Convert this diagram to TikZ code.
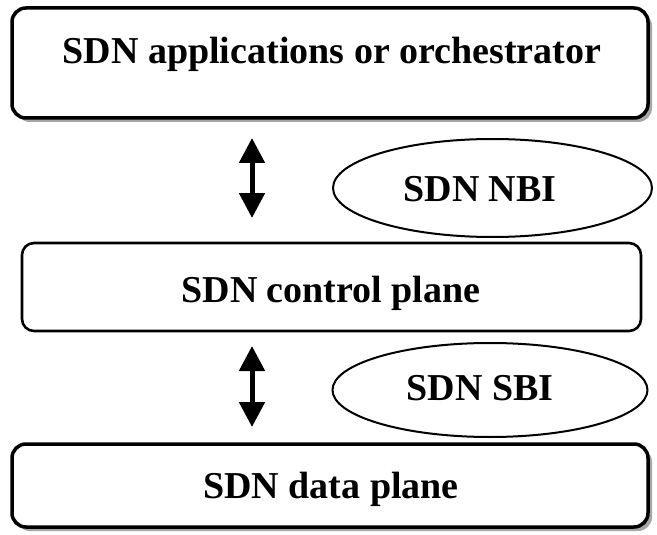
\documentclass[tikz,border=0pt]{standalone}
\usepackage{fontspec}
\setmainfont{Liberation Serif}
\usetikzlibrary{shapes.geometric,arrows.meta,shadows}
\begin{document}
\begin{tikzpicture}[x=1pt,y=-1pt,
  shadowbox/.style={draw, rounded corners=14pt, line width=3.5pt, fill=white,
    inner sep=0pt,
    drop shadow={shadow xshift=4pt, shadow yshift=-4pt, fill=gray!70, opacity=1}},
  plainbox/.style={draw, rounded corners=12pt, line width=2.6pt, fill=white, inner sep=0pt},
  oval/.style={draw, ellipse, line width=2pt, inner sep=0pt},
  lbl/.style={font=\fontsize{38}{40}\selectfont\bfseries, anchor=base, inner sep=0pt},
  dblarrow/.style={line width=5pt, {Triangle[width=25pt,length=25pt]}-{Triangle[width=25pt,length=25pt]}}
]
\useasboundingbox[fill=white] (0,0) rectangle (657,535);

\node[shadowbox, minimum width=636pt, minimum height=110pt] (app) at (330,63) {};
\node[lbl] (apptxt) at (332,64) {SDN applications or orchestrator};

\node[plainbox, minimum width=619pt, minimum height=88pt] (ctrl) at (331.5,287) {};
\node[lbl] (ctrltxt) at (331,302) {SDN control plane};

\node[shadowbox, minimum width=636pt, minimum height=83pt] (data) at (330,485.5) {};
\node[lbl] (datatxt) at (331,498) {SDN data plane};

\node[oval, minimum width=319pt, minimum height=98pt] (nbi) at (492.5,188) {};
\node[lbl] (nbitxt) at (480,201) {SDN NBI};

\node[oval, minimum width=315pt, minimum height=94pt] (sbi) at (490,390) {};
\node[lbl] (sbitxt) at (480,400) {SDN SBI};

\coordinate (n1) at (252,138);
\coordinate (n2) at (252,218);
\coordinate (s1) at (252,346);
\coordinate (s2) at (252,427);
\draw[dblarrow] (n1) -- (n2);
\draw[dblarrow] (s1) -- (s2);
\end{tikzpicture}
\end{document}
